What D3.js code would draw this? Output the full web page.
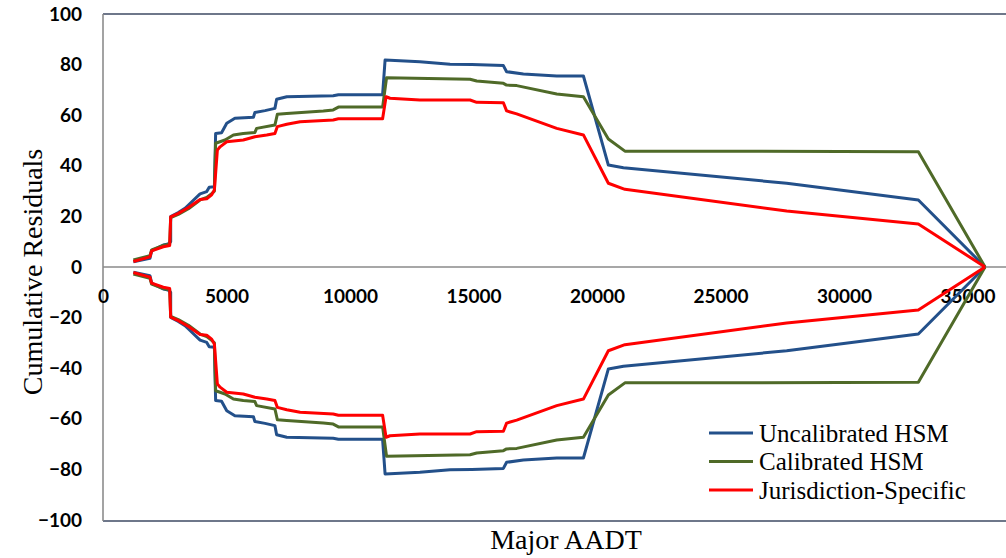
<!DOCTYPE html>
<html>
<head>
<meta charset="utf-8">
<script src="https://cdn.jsdelivr.net/npm/d3@7"></script>
<style>
  html, body { margin: 0; padding: 0; background: #fff; }
  svg { display: block; }
</style>
</head>
<body>
<svg id="chart" width="1006" height="558"></svg>
<script>
// Cumulative residuals vs. Major AADT (upper bound curves; lower bounds are their mirror)
const seriesNames = ["Uncalibrated HSM", "Calibrated HSM", "Jurisdiction-Specific"];
const seriesColors = ["#23508A", "#4F6A28", "#FF0000"];

const uncalAADT = [1230, 1900, 1970, 2440, 2640, 2740, 2740, 3050, 3320, 3460, 3930, 4200, 4300, 4510, 4560, 4800, 5010, 5340, 6090, 6150, 6560, 6960, 7030, 7440, 9320, 9530, 11320, 11420, 12830, 14050, 14930, 16210, 16340, 17020, 18370, 19450, 20460, 21070, 27680, 33010, 35710];
const uncalRes  = [2.1, 3.4, 6.4, 8.7, 9.1, 10.0, 19.9, 21.5, 23.2, 24.5, 28.9, 29.8, 31.5, 31.7, 52.8, 53.1, 56.8, 58.8, 59.2, 61.1, 61.8, 62.7, 66.3, 67.3, 67.7, 68.1, 68.1, 81.8, 81.1, 80.1, 80.0, 79.6, 77.2, 76.3, 75.5, 75.5, 40.3, 39.2, 33.1, 26.5, 0];

const calAADT = [1230, 1900, 1970, 2440, 2700, 2740, 3050, 3460, 3930, 4200, 4400, 4510, 4560, 4940, 5280, 5680, 6150, 6220, 6960, 7060, 7440, 8920, 9320, 9530, 11320, 11480, 14860, 15130, 16210, 16340, 16750, 18370, 19450, 20460, 21130, 33010, 35710];
const calRes  = [2.8, 4.5, 6.8, 8.5, 9.0, 19.5, 20.8, 23.0, 26.5, 27.5, 29.0, 30.0, 48.9, 50.2, 52.2, 52.8, 53.2, 54.8, 56.1, 60.4, 60.7, 61.7, 62.1, 63.2, 63.2, 74.8, 74.2, 73.5, 72.6, 71.9, 71.7, 68.4, 67.3, 50.6, 45.8, 45.6, 0];

const jurAADT = [1230, 1900, 1970, 2440, 2700, 2740, 3050, 3460, 3930, 4200, 4400, 4510, 4630, 4740, 5010, 5680, 6150, 6630, 6960, 7060, 7440, 7980, 9320, 9530, 11320, 11460, 11620, 12830, 14860, 15130, 16210, 16340, 16750, 18370, 19450, 20460, 21130, 27680, 33010, 35710];
const jurRes  = [2.2, 4.0, 6.4, 8.0, 8.5, 19.8, 21.2, 23.5, 26.7, 27.0, 28.5, 30.5, 46.2, 47.5, 49.5, 50.2, 51.5, 52.2, 52.8, 55.5, 56.4, 57.4, 58.1, 58.6, 58.6, 67.3, 66.7, 66.0, 66.0, 65.1, 64.9, 61.7, 60.5, 54.8, 52.2, 33.1, 30.7, 22.1, 17.0, 0];

const xTicks = [0, 5000, 10000, 15000, 20000, 25000, 30000, 35000];
const yTicks = [100, 80, 60, 40, 20, 0, -20, -40, -60, -80, -100];

const xTitle = "Major AADT";
const yTitle = "Cumulative Residuals";

const seriesX = [uncalAADT, calAADT, jurAADT];
const seriesY = [uncalRes, calRes, jurRes];

const svg = d3.select("#chart");
const W = 1006, H = 558;
const plot = { left: 103, top: 14, bottom: 520, right: 1091 };

const x = d3.scaleLinear().domain([0, 40000]).range([plot.left, plot.right]);
const y = d3.scaleLinear().domain([-100, 100]).range([plot.bottom, plot.top]);

const tickFont = "Lato, 'Liberation Sans', Arial, sans-serif";
const serif = "'Liberation Serif', 'Times New Roman', Times, serif";

// plot frame
svg.append("line").attr("x1", plot.left).attr("x2", W).attr("y1", plot.top).attr("y2", plot.top)
  .attr("stroke", "#3E4A63").attr("stroke-width", 1.5);
svg.append("line").attr("x1", plot.left).attr("x2", W).attr("y1", plot.bottom + 1).attr("y2", plot.bottom + 1)
  .attr("stroke", "#3E4A63").attr("stroke-width", 1.5);
svg.append("line").attr("x1", plot.left).attr("x2", plot.left).attr("y1", plot.top).attr("y2", plot.bottom + 1)
  .attr("stroke", "#858585").attr("stroke-width", 1.5);

// y axis labels
const yAxis = svg.append("g").attr("transform", `translate(${plot.left},0)`)
  .call(d3.axisLeft(y).tickValues(yTicks).tickSize(0).tickPadding(21).tickFormat(d3.format("d")));
yAxis.select(".domain").remove();
yAxis.selectAll("text").attr("font-family", tickFont).attr("font-weight", 700)
  .attr("font-size", 19).attr("fill", "#000");

// zero line + x axis labels
const xAxis = svg.append("g").attr("transform", `translate(0,${y(0)})`)
  .call(d3.axisBottom(x).tickValues(xTicks).tickSize(0).tickPadding(23).tickFormat(d3.format("d")));
xAxis.select(".domain").remove();
xAxis.selectAll("text").attr("font-family", tickFont).attr("font-weight", 700)
  .attr("font-size", 19).attr("fill", "#000");
svg.append("line").attr("x1", plot.left).attr("x2", W).attr("y1", y(0)).attr("y2", y(0))
  .attr("stroke", "#8A8A8A").attr("stroke-width", 1.5);

// curves: upper (positive) and lower (negative) bounds
const line = d3.line().x(d => x(d[0])).y(d => y(d[1]));
seriesNames.forEach((name, i) => {
  const pts = seriesX[i].map((v, k) => [v, seriesY[i][k]]);
  [1, -1].forEach(sign => {
    svg.append("path")
      .datum(pts.map(p => [p[0], sign * p[1]]))
      .attr("d", line)
      .attr("fill", "none")
      .attr("stroke", seriesColors[i])
      .attr("stroke-width", 3)
      .attr("stroke-linejoin", "round");
  });
});

// axis titles
svg.append("text").attr("x", 566).attr("y", 549).attr("text-anchor", "middle")
  .attr("font-family", serif).attr("font-size", 28).attr("fill", "#000").text(xTitle);
svg.append("text").attr("transform", "translate(42,272) rotate(-90)").attr("text-anchor", "middle")
  .attr("font-family", serif).attr("font-size", 28).attr("fill", "#000").text(yTitle);

// legend
const legend = svg.append("g");
seriesNames.forEach((name, i) => {
  const ly = 433 + i * 28.5;
  legend.append("line").attr("x1", 709).attr("x2", 753).attr("y1", ly).attr("y2", ly)
    .attr("stroke", seriesColors[i]).attr("stroke-width", 3);
  legend.append("text").attr("x", 759).attr("y", ly + 8.7)
    .attr("font-family", serif).attr("font-size", 25).attr("fill", "#000").text(name);
});
</script>
</body>
</html>
